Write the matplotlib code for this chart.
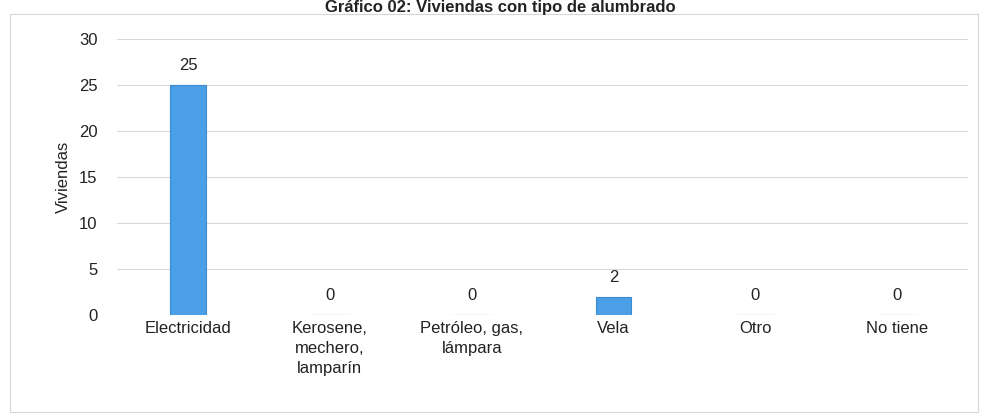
import matplotlib
matplotlib.use("Agg")
import matplotlib.pyplot as plt
from matplotlib.patches import Rectangle
from matplotlib import font_manager

categories = ["Electricidad", "Kerosene,\nmechero,\nlamparín", "Petróleo, gas,\nlámpara",
              "Vela", "Otro", "No tiene"]
values = [25, 0, 0, 2, 0, 0]
yticks = [0, 5, 10, 15, 20, 25, 30]

names = {f.name for f in font_manager.fontManager.ttflist}
fam = "Liberation Sans Narrow" if "Liberation Sans Narrow" in names else "Liberation Sans"
plt.rcParams["font.family"] = [fam, "DejaVu Sans"]

fig = plt.figure(figsize=(9.84, 4.15), dpi=100)
ax = fig.add_axes([0.119, 0.241, 0.865, 0.665])

x = list(range(len(categories)))
ax.bar(x, values, width=0.25, color="#4A9FE6", edgecolor="#3C8AD0", linewidth=0.8, zorder=3)
for xi, v in zip(x, values):
    ax.text(xi, v + 1.3, str(v), ha="center", va="bottom", fontsize=12, color="#222222")

ax.set_xlim(-0.5, len(categories) - 0.5)
ax.set_ylim(0, 30)
ax.set_yticks(yticks)
ax.set_xticks(x)
ax.set_xticklabels(categories, fontsize=12, color="#222222", linespacing=1.45)
ax.tick_params(axis="y", labelsize=12, colors="#222222", length=0, pad=14)
ax.tick_params(axis="x", length=0, pad=4)
ax.grid(axis="y", color="#d9d9d9", linewidth=0.8, zorder=0)
for s in ax.spines.values():
    s.set_visible(False)
ax.set_ylabel("Viviendas", fontsize=12, color="#222222", labelpad=6)

fig.text(0.508, 0.999, "Gráfico 02: Viviendas con tipo de alumbrado", ha="center", va="top",
         fontsize=12, fontweight="bold", color="#222222")
fig.patches.append(Rectangle((10 / 984, 3 / 415), 968 / 984, 398 / 415, transform=fig.transFigure,
                             fill=False, edgecolor="#d6d6d6", linewidth=0.8))

fig.savefig("out.png", dpi=100)
